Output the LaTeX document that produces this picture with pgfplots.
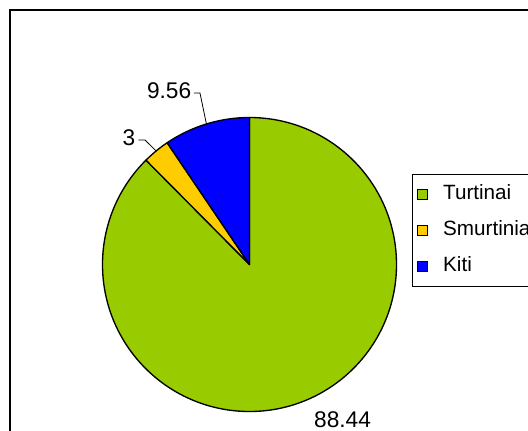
\documentclass[border=0pt]{standalone}
\usepackage{fontspec}
\setmainfont{Liberation Sans}
\usepackage{pgfplots}
\usepackage{pgfplotstable}
\pgfplotsset{compat=1.18}
\definecolor{turt}{HTML}{99CC00}
\definecolor{smur}{HTML}{FFCC00}
\definecolor{kiti}{HTML}{0000FF}

\pgfplotstableread{
label value
Turtinai 88.44
Smurtinia 3
Kiti 9.56
}\piedata

\begin{document}
\begin{tikzpicture}[x=0.75pt,y=0.75pt,
  pie/.style={draw=black, line width=1pt, line join=round},
  lbl/.style={inner sep=0pt, font=\fontsize{17}{20}\selectfont}]
% slice values and angles (clockwise from 12 o'clock)
\pgfplotstablegetelem{0}{value}\of\piedata\let\vA\pgfplotsretval
\pgfplotstablegetelem{1}{value}\of\piedata\let\vB\pgfplotsretval
\pgfplotstablegetelem{2}{value}\of\piedata\let\vC\pgfplotsretval
\pgfmathsetmacro\tot{\vA+\vB+\vC}
\pgfmathsetmacro\aA{90}
\pgfmathsetmacro\aB{\aA-(\vA/\tot)*360}
\pgfmathsetmacro\aC{\aB-(\vB/\tot)*360}
\pgfmathsetmacro\aD{\aC-(\vC/\tot)*360}
\pgfmathsetmacro\mB{(\aB+\aC)/2}
\pgfmathsetmacro\mC{(\aC+\aD)/2}
\fill[white] (0,0) rectangle (528,430);
\draw[line width=1.5pt] (9.5,420.5) rectangle (600,-50);
\coordinate (C) at (249.5,165.5);
\begin{axis}[at={(C)}, anchor=origin,
  x=110.25pt, y=110.25pt,
  xmin=-1, xmax=1, ymin=-1, ymax=1,
  hide axis, clip=false,
  legend cell align=left,
  legend image code/.code={\draw[#1] (0pt,-3.5pt) rectangle (7pt,3.5pt);},
  legend style={at={(axis description cs:1.0527,0.8078)}, anchor=north west,
    draw=black, line width=0.75pt,
    font=\fontsize{15.5}{18}\selectfont,
    inner xsep=3.75pt, inner ysep=8pt, row sep=13pt,
    nodes={inner sep=0pt, text height=11pt, text depth=3pt},
    /tikz/every odd column/.append style={column sep=11.5pt}}]
\addlegendimage{draw=black, line width=0.75pt, fill=turt}
\addlegendentry{Turtinai}
\addlegendimage{draw=black, line width=0.75pt, fill=smur}
\addlegendentry{Smurtinia}
\addlegendimage{draw=black, line width=0.75pt, fill=kiti}
\addlegendentry{Kiti}

\filldraw[pie, fill=turt] (axis cs:0,0) -- (axis cs:{cos(\aA)},{sin(\aA)})
  arc[start angle=\aA, end angle=\aB, radius=110.25pt] -- cycle;
\filldraw[pie, fill=smur] (axis cs:0,0) -- (axis cs:{cos(\aB)},{sin(\aB)})
  arc[start angle=\aB, end angle=\aC, radius=110.25pt] -- cycle;
\filldraw[pie, fill=kiti] (axis cs:0,0) -- (axis cs:{cos(\aC)},{sin(\aC)})
  arc[start angle=\aC, end angle=\aD, radius=110.25pt] -- cycle;

% data labels with leader lines
\draw[line width=0.6pt] (axis cs:-0.378,1.167) -- (axis cs:-0.337,1.167)
  -- (axis cs:{cos(\mC)},{sin(\mC)});
\draw[line width=0.6pt] (axis cs:-0.756,0.847) -- (axis cs:-0.711,0.847)
  -- (axis cs:{cos(\mB)},{sin(\mB)});
\node[lbl, anchor=east] at (axis cs:-0.395,1.184) {9.56};
\node[lbl, anchor=east] at (axis cs:-0.776,0.864) {3};
\node[lbl, anchor=center] at (axis cs:0.633,-1.055) {88.44};
\end{axis}
\pgfresetboundingbox
\useasboundingbox (0,0) rectangle (528,430);
\end{tikzpicture}
\end{document}
